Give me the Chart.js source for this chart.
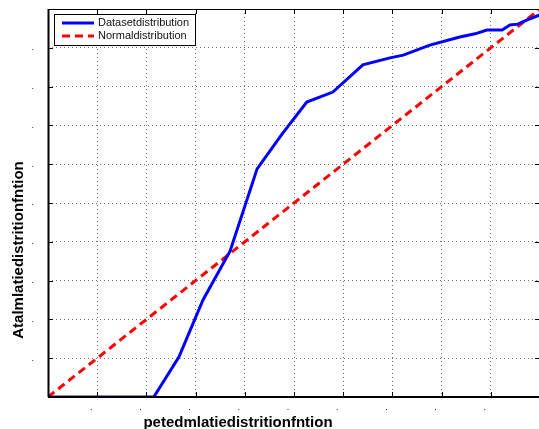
<!DOCTYPE html>
<html>
<head>
<meta charset="utf-8">
<script src="https://cdn.jsdelivr.net/npm/chart.js@4.4.1/dist/chart.umd.min.js"></script>
<style>
  html, body { margin: 0; padding: 0; background: #fff; overflow: hidden; }
  #wrap { width: 545px; height: 429px; }
</style>
</head>
<body>
<div id="wrap"><canvas id="c" width="545" height="429"></canvas></div>
<script>
// values (both axes run 0..1)
const datasetX = [0, 0.215, 0.266, 0.315, 0.370, 0.425, 0.476, 0.526, 0.579, 0.640, 0.695, 0.722, 0.776, 0.837, 0.868, 0.892, 0.923, 0.939, 0.955, 0.974, 0.994, 1.0];
const datasetY = [0, 0, 0.103, 0.250, 0.376, 0.588, 0.678, 0.760, 0.786, 0.856, 0.874, 0.881, 0.907, 0.928, 0.936, 0.946, 0.946, 0.959, 0.961, 0.972, 0.982, 0.985];
const normalX = [0, 1];
const normalY = [0, 1];
const seriesNames = ['Datasetdistribution', 'Normaldistribution'];
const xTitle = 'petedmlatiedistritionfntion';
const yTitle = 'Atalmlatiedistritionfntion';

const toPoints = (xs, ys) => xs.map((x, i) => ({ x: x, y: ys[i] }));

// only the inner ticks get a little "." label, like the original
const dotLabel = (v) => (v > 0.05 && v < 0.95) ? '.' : '';

// frame, inward ticks, legend and axis titles
const matlabLook = {
  id: 'matlabLook',
  afterDraw(chart) {
    const ctx = chart.ctx;
    const a = chart.chartArea;
    const xs = chart.scales.x, ys = chart.scales.y;
    ctx.save();
    ctx.strokeStyle = '#000';
    ctx.lineWidth = 1;
    ctx.strokeRect(a.left + 0.5, a.top + 0.5, a.right - a.left - 1, a.bottom - a.top - 1);
    ctx.lineWidth = 2;
    ctx.beginPath();
    ctx.moveTo(a.left, a.bottom); ctx.lineTo(a.right, a.bottom);
    ctx.moveTo(a.left + 0.5, a.top); ctx.lineTo(a.left + 0.5, a.bottom);
    ctx.stroke();
    ctx.lineWidth = 1;
    ctx.beginPath();
    xs.ticks.forEach(t => {
      const px = Math.round(xs.getPixelForValue(t.value)) + 0.5;
      ctx.moveTo(px, a.bottom); ctx.lineTo(px, a.bottom - 5);
      ctx.moveTo(px, a.top); ctx.lineTo(px, a.top + 5);
    });
    ys.ticks.forEach(t => {
      const py = Math.round(ys.getPixelForValue(t.value)) + 0.5;
      ctx.moveTo(a.left, py); ctx.lineTo(a.left + 5, py);
      ctx.moveTo(a.right, py); ctx.lineTo(a.right - 5, py);
    });
    ctx.stroke();

    // legend box
    const lx = a.left + 6, ly = a.top + 5, lw = 141, lh = 31;
    ctx.fillStyle = '#fff';
    ctx.fillRect(lx, ly, lw, lh);
    ctx.strokeStyle = '#000';
    ctx.lineWidth = 1;
    ctx.strokeRect(lx + 0.5, ly + 0.5, lw, lh);
    ctx.font = '11px "Liberation Sans", Arial, sans-serif';
    ctx.textBaseline = 'middle';
    chart.data.datasets.forEach((ds, i) => {
      const yy = ly + 9 + i * 13;
      ctx.strokeStyle = ds.borderColor;
      ctx.lineWidth = 3;
      ctx.setLineDash(ds.borderDash || []);
      ctx.beginPath();
      ctx.moveTo(lx + 8, yy); ctx.lineTo(lx + 40, yy);
      ctx.stroke();
      ctx.setLineDash([]);
      ctx.fillStyle = '#111';
      ctx.fillText(ds.label, lx + 44, yy);
    });

    // axis titles
    ctx.fillStyle = '#000';
    ctx.font = 'bold 15px "Liberation Sans", Arial, sans-serif';
    ctx.textAlign = 'center';
    ctx.textBaseline = 'alphabetic';
    ctx.fillText(xTitle, 238, 427);
    ctx.translate(23, 250);
    ctx.rotate(-Math.PI / 2);
    ctx.fillText(yTitle, 0, 0);
    ctx.restore();
  }
};

const gridOpts = {
  color: 'rgba(0,0,0,0.55)',
  lineWidth: 1,
  drawTicks: false
};

new Chart(document.getElementById('c'), {
  type: 'line',
  data: {
    datasets: [
      {
        label: seriesNames[0],
        data: toPoints(datasetX, datasetY),
        borderColor: '#0000ff',
        borderWidth: 3,
        pointRadius: 0,
        tension: 0
      },
      {
        label: seriesNames[1],
        data: toPoints(normalX, normalY),
        borderColor: '#ff0000',
        borderWidth: 3,
        borderDash: [8, 5],
        pointRadius: 0,
        tension: 0
      }
    ]
  },
  options: {
    responsive: false,
    animation: false,
    layout: { autoPadding: false, padding: { top: 9, right: 5, left: 0, bottom: 0 } },
    plugins: { legend: { display: false }, tooltip: { enabled: false } },
    scales: {
      x: {
        type: 'linear',
        min: 0, max: 1,
        afterFit: (s) => { s.height = 32; s.paddingLeft = 0; s.paddingRight = 0; },
        grid: gridOpts,
        border: { display: false, dash: [1, 3] },
        ticks: {
          stepSize: 0.1,
          padding: 5,
          labelOffset: -6,
          color: '#000',
          font: { size: 9 },
          maxRotation: 0,
          callback: dotLabel
        }
      },
      y: {
        type: 'linear',
        min: 0, max: 1,
        afterFit: (s) => { s.width = 48; s.paddingTop = 0; s.paddingBottom = 0; },
        grid: gridOpts,
        border: { display: false, dash: [1, 3] },
        ticks: {
          stepSize: 0.1,
          padding: 14,
          color: '#000',
          font: { size: 9 },
          callback: dotLabel
        }
      }
    }
  },
  plugins: [matlabLook]
});
</script>
</body>
</html>
